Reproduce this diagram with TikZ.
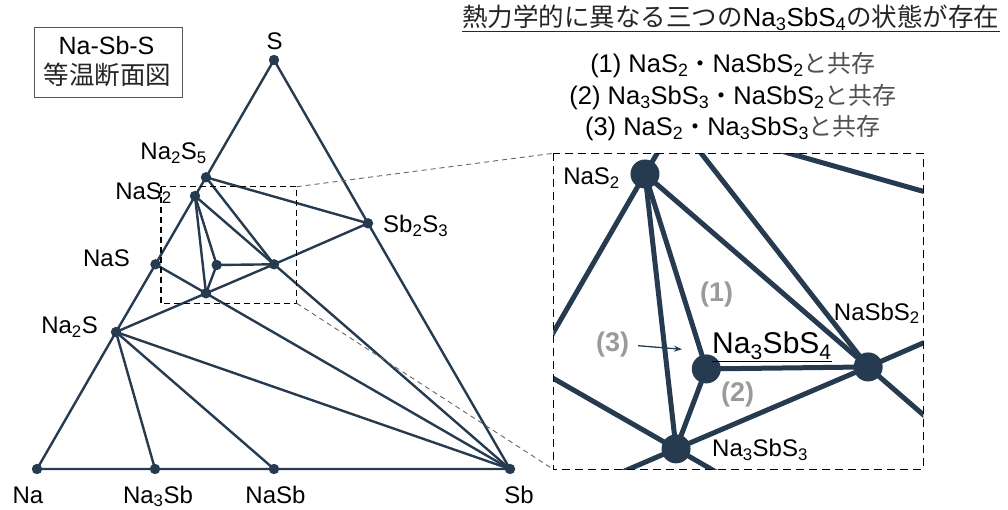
\documentclass[tikz,border=0pt]{standalone}
\usepackage{fontspec}
\setmainfont{Liberation Sans}
\newfontfamily\jp{Noto Sans CJK JP}
\usetikzlibrary{arrows.meta}
\definecolor{navy}{HTML}{263B50}
\definecolor{lblgray}{HTML}{9A9A9A}
\definecolor{jpgray}{HTML}{505050}
\definecolor{boxgray}{HTML}{555555}
\definecolor{linkgray}{HTML}{666666}
\newcommand{\fs}[1]{\fontsize{#1}{#1}\selectfont}
\newcommand{\phasepts}[1]{%
  \coordinate (#1S) at (274,60);
  \coordinate (#1Na) at (37,469);
  \coordinate (#1Sb) at (510,469);
  \coordinate (#1NaThreeSb) at (155,469);
  \coordinate (#1NaSb) at (274,469);
  \coordinate (#1NaTwoS) at (116,332);
  \coordinate (#1NaS) at (155.5,264.3);
  \coordinate (#1NaSTwo) at (195,196);
  \coordinate (#1NaTwoSFive) at (206,177.3);
  \coordinate (#1SbTwoSThree) at (368,223.3);
  \coordinate (#1NaSbSTwo) at (274,264.3);
  \coordinate (#1SbSFour) at (216.7,265);
  \coordinate (#1SbSThree) at (206,293.3);
}
\newcommand{\tielines}[2]{%
  \draw[#2] (#1S) -- (#1NaTwoSFive) -- (#1NaSTwo) -- (#1NaS) -- (#1NaTwoS) -- (#1Na)
     -- (#1NaThreeSb) -- (#1NaSb) -- (#1Sb) -- (#1SbTwoSThree) -- cycle;
  \draw[#2] (#1NaTwoSFive) -- (#1SbTwoSThree);
  \draw[#2] (#1NaTwoSFive) -- (#1NaSbSTwo);
  \draw[#2] (#1NaSTwo) -- (#1NaSbSTwo);
  \draw[#2] (#1NaSTwo) -- (#1SbSFour);
  \draw[#2] (#1NaSTwo) -- (#1SbSThree);
  \draw[#2] (#1SbSFour) -- (#1NaSbSTwo);
  \draw[#2] (#1SbSFour) -- (#1SbSThree);
  \draw[#2] (#1SbSThree) -- (#1NaSbSTwo);
  \draw[#2] (#1NaSbSTwo) -- (#1SbTwoSThree);
  \draw[#2] (#1NaSbSTwo) -- (#1Sb);
  \draw[#2] (#1NaS) -- (#1SbSThree);
  \draw[#2] (#1NaTwoS) -- (#1SbSThree);
  \draw[#2] (#1SbSThree) -- (#1Sb);
  \draw[#2] (#1NaTwoS) -- (#1Sb);
  \draw[#2] (#1NaTwoS) -- (#1NaSb);
  \draw[#2] (#1NaTwoS) -- (#1NaThreeSb);
}
\newcommand{\phasedots}[2]{%
  \foreach \p in {S,Na,Sb,NaThreeSb,NaSb,NaTwoS,NaS,NaSTwo,NaTwoSFive,SbTwoSThree,NaSbSTwo,SbSFour,SbSThree}
    \fill[navy] (#1\p) circle[radius=#2];
}
\begin{document}
\begin{tikzpicture}[x=1pt,y=-1pt,
  tie/.style={draw=navy, line width=2.4pt, line join=round},
  ztie/.style={draw=navy, line width=5pt, line join=round},
  lab/.style={inner sep=0pt, font=\fs{24}},
  zlab/.style={inner sep=0pt, font=\fs{24}},
  numlab/.style={inner sep=0pt, font=\bfseries\fs{27}, text=lblgray},
  dashbox/.style={draw=black, line width=1.5pt, dash pattern=on 6pt off 4pt},
  zoomlink/.style={draw=linkgray, line width=0.9pt, dash pattern=on 5pt off 4pt}]
\useasboundingbox (0,0) rectangle (1008,510);

% ---------- main diagram ----------
\phasepts{}
\tielines{}{tie}
\phasedots{}{5.2pt}

% labels
\node[lab, anchor=base] (lS) at (274.5,50) {S};
\node[lab, anchor=base east] (lNaTwoSFive) at (207,159.5) {Na\textsubscript{2}S\textsubscript{5}};
\node[lab, anchor=base east] (lNaSTwo) at (172,200) {NaS\textsubscript{2}};
\node[lab, anchor=base east] (lNaS) at (130,267) {NaS};
\node[lab, anchor=base east] (lNaTwoS) at (98,333.5) {Na\textsubscript{2}S};
\node[lab, anchor=base west] (lSbTwoSThree) at (383,232.3) {Sb\textsubscript{2}S\textsubscript{3}};
\node[lab, anchor=base] (lNa) at (28,503) {Na};
\node[lab, anchor=base] (lNaThreeSb) at (158,503) {Na\textsubscript{3}Sb};
\node[lab, anchor=base] (lNaSb) at (275.5,503) {NaSb};
\node[lab, anchor=base] (lSb) at (519,503) {Sb};

% title box
\node[draw=boxgray, line width=0.9pt, minimum width=148pt, minimum height=70pt, inner sep=0pt] (box) at (108,62) {};
\node[inner sep=0pt, anchor=base, font=\fs{25}] (boxa) at (106.5,54.3) {Na-Sb-S};
\node[inner sep=0pt, font=\jp\fs{25.5}, text=black!85] (boxb) at (107.5,75) {等温断面図};

% zoom window
\coordinate (wNW) at (161,186.7);
\coordinate (wNE) at (296.7,186.7);
\coordinate (wSE) at (296.7,303.3);
\coordinate (iNW) at (553.3,153.3);
\coordinate (iSW) at (553.3,469.3);
\coordinate (iSE) at (923.3,469.3);
\draw[dashbox] (wNW) rectangle (wSE);
\draw[zoomlink] (wNE) -- (iNW);
\draw[zoomlink] (wSE) -- (iSW);

% ---------- inset ----------
\begin{scope}
  \clip (iNW) rectangle (iSE);
  \begin{scope}[shift={(94.1,-379.7)}, scale=2.825]
    \phasepts{z}
  \end{scope}
  \tielines{z}{ztie}
  \phasedots{z}{14.5pt}
\end{scope}
\draw[dashbox, dash pattern=on 8pt off 5pt] (iNW) rectangle (iSE);

\node[zlab, anchor=base east] (zlNaSTwo) at (620,185) {NaS\textsubscript{2}};
\node[zlab, anchor=base east] (zlNaSbSTwo) at (920,320) {NaSbS\textsubscript{2}};
\node[zlab, anchor=base west, font=\fs{30}] (zlSbSFour) at (712,353.3) {\underline{Na\textsubscript{3}SbS\textsubscript{4}}};
\node[zlab, anchor=base west] (zlSbSThree) at (712,456.7) {Na\textsubscript{3}SbS\textsubscript{3}};
\node[numlab] (one) at (716.5,294.5) {(1)};
\node[numlab] (two) at (737.5,394.5) {(2)};
\node[numlab] (three) at (612.5,345) {(3)};
\coordinate (arrowtip) at (682,349.3);
\draw[navy, line width=1.3pt, -{Stealth[length=8pt,width=6pt]}, shorten <=9pt] (three.east) -- (arrowtip);

% ---------- text at top right ----------
\node[inner sep=0pt, anchor=base west] (title) at (462,26.5)
  {{\jp\fs{25.5}\color{black!85}熱力学的に異なる三つの}{\fs{26}Na\textsubscript{3}SbS\textsubscript{4}}{\jp\fs{25.5}\color{black!85}の状態が存在}};
\draw[black!85, line width=1.4pt] ([yshift=-5pt]title.base west) -- ([yshift=-5pt]title.base east);
\node[inner sep=0pt, anchor=base] (cA) at (733,72.7)
  {\fs{25.5}(1) NaS\textsubscript{2}{\jp\fs{24}・}NaSbS\textsubscript{2}{\jp\fs{24}\color{jpgray}と共存}};
\node[inner sep=0pt, anchor=base] (cB) at (733,105)
  {\fs{25.5}(2) Na\textsubscript{3}SbS\textsubscript{3}{\jp\fs{24}・}NaSbS\textsubscript{2}{\jp\fs{24}\color{jpgray}と共存}};
\node[inner sep=0pt, anchor=base] (cC) at (733,136)
  {\fs{25.5}(3) NaS\textsubscript{2}{\jp\fs{24}・}Na\textsubscript{3}SbS\textsubscript{3}{\jp\fs{24}\color{jpgray}と共存}};
\end{tikzpicture}
\end{document}
